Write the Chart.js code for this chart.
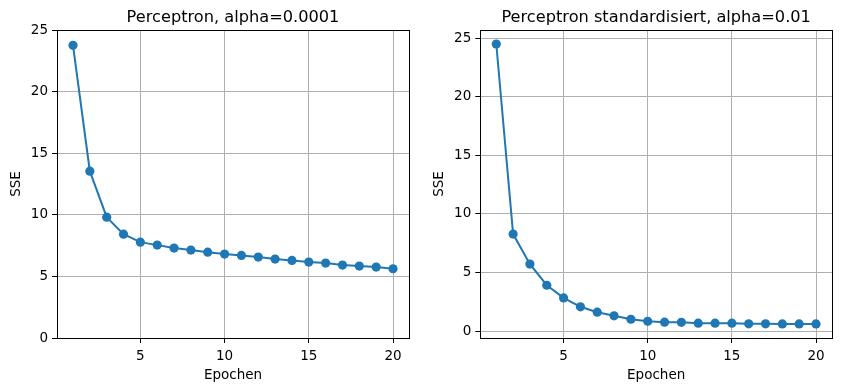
<!DOCTYPE html>
<html><head><meta charset="utf-8">
<script src="https://cdn.jsdelivr.net/npm/chart.js@4"></script>
<style>
html,body{margin:0;padding:0;background:#fff;width:842px;height:391px;overflow:hidden}
canvas{position:absolute;top:0}
#c1{left:0}
#c2{left:421px}
</style></head><body>
<canvas id="c1" width="421" height="391"></canvas>
<canvas id="c2" width="421" height="391"></canvas>
<script>
const epochs = [1,2,3,4,5,6,7,8,9,10,11,12,13,14,15,16,17,18,19,20];
const sseLeft = [23.76,13.54,9.81,8.43,7.78,7.54,7.30,7.14,6.97,6.81,6.70,6.57,6.41,6.30,6.16,6.08,5.92,5.84,5.76,5.62];
const sseRight = [24.49,8.28,5.72,3.92,2.84,2.08,1.62,1.31,1.02,0.85,0.77,0.76,0.68,0.68,0.68,0.63,0.63,0.62,0.62,0.62];
const xTicks = [5,10,15,20];
const yTicksLeft = [0,5,10,15,20,25];
const yTicksRight = [0,5,10,15,20,25];
const titleLeft = 'Perceptron, alpha=0.0001';
const titleRight = 'Perceptron standardisiert, alpha=0.01';
const xLabel = 'Epochen';
const yLabel = 'SSE';

Chart.defaults.font.family = "'DejaVu Sans', sans-serif";
Chart.defaults.font.size = 13.5;
Chart.defaults.color = '#000';

const boxPlugin = {
  id: 'box',
  afterDraw(chart) {
    const a = chart.chartArea, ctx = chart.ctx;
    ctx.save();
    ctx.strokeStyle = '#000';
    ctx.lineWidth = 1;
    ctx.strokeRect(Math.round(a.left) + 0.5, Math.round(a.top) + 0.5,
                   Math.round(a.right) - Math.round(a.left), Math.round(a.bottom) - Math.round(a.top));
    ctx.restore();
  }
};

function makeChart(id, title, values, yTicks, yMin, yMax, yAxisWidth, padRight, yTitlePad) {
  return new Chart(document.getElementById(id), {
    type: 'line',
    data: {
      datasets: [{
        data: epochs.map((e, i) => ({x: e, y: values[i]})),
        borderColor: '#1f77b4',
        backgroundColor: '#1f77b4',
        borderWidth: 2,
        pointRadius: 4.6,
        pointHoverRadius: 4.6,
        pointBorderWidth: 0,
        pointBackgroundColor: '#1f77b4',
        tension: 0,
        fill: false
      }]
    },
    options: {
      responsive: false,
      animation: false,
      events: [],
      layout: {padding: {left: 0, right: padRight, top: 0, bottom: 0}},
      plugins: {
        legend: {display: false},
        tooltip: {enabled: false},
        title: {
          display: true, text: title, fullSize: false,
          color: '#000',
          font: {size: 16.2, weight: 'normal', lineHeight: 1.2},
          padding: {top: 8, bottom: 2.6}
        }
      },
      scales: {
        x: {
          type: 'linear', min: 0.05, max: 20.95,
          afterBuildTicks: s => { s.ticks = xTicks.map(v => ({value: v})); },
          afterFit: s => { s.height = 53; },
          grid: {color: '#b0b0b0', lineWidth: 1, tickColor: '#000', tickLength: 5, drawTicks: true},
          border: {display: false},
          ticks: {padding: 5, color: '#000', maxRotation: 0, autoSkip: false},
          title: {display: true, text: xLabel, color: '#000', font: {size: 13.5}, padding: {top: 0, bottom: 7}}
        },
        y: {
          type: 'linear', min: yMin, max: yMax,
          afterBuildTicks: s => { s.ticks = yTicks.map(v => ({value: v})); },
          afterFit: s => { s.width = yAxisWidth; },
          grid: {color: '#b0b0b0', lineWidth: 1, tickColor: '#000', tickLength: 5, drawTicks: true},
          border: {display: false},
          ticks: {padding: 4, color: '#000', autoSkip: false},
          title: {display: true, text: yLabel, color: '#000', font: {size: 13.5}, padding: {top: yTitlePad, bottom: 0}}
        }
      }
    },
    plugins: [boxPlugin]
  });
}

makeChart('c1', titleLeft, sseLeft, yTicksLeft, 0, 25, 57, 12, 8.6);
makeChart('c2', titleRight, sseRight, yTicksRight, -0.58, 25.68, 59.3, 10, 10.2);
</script>
</body></html>
